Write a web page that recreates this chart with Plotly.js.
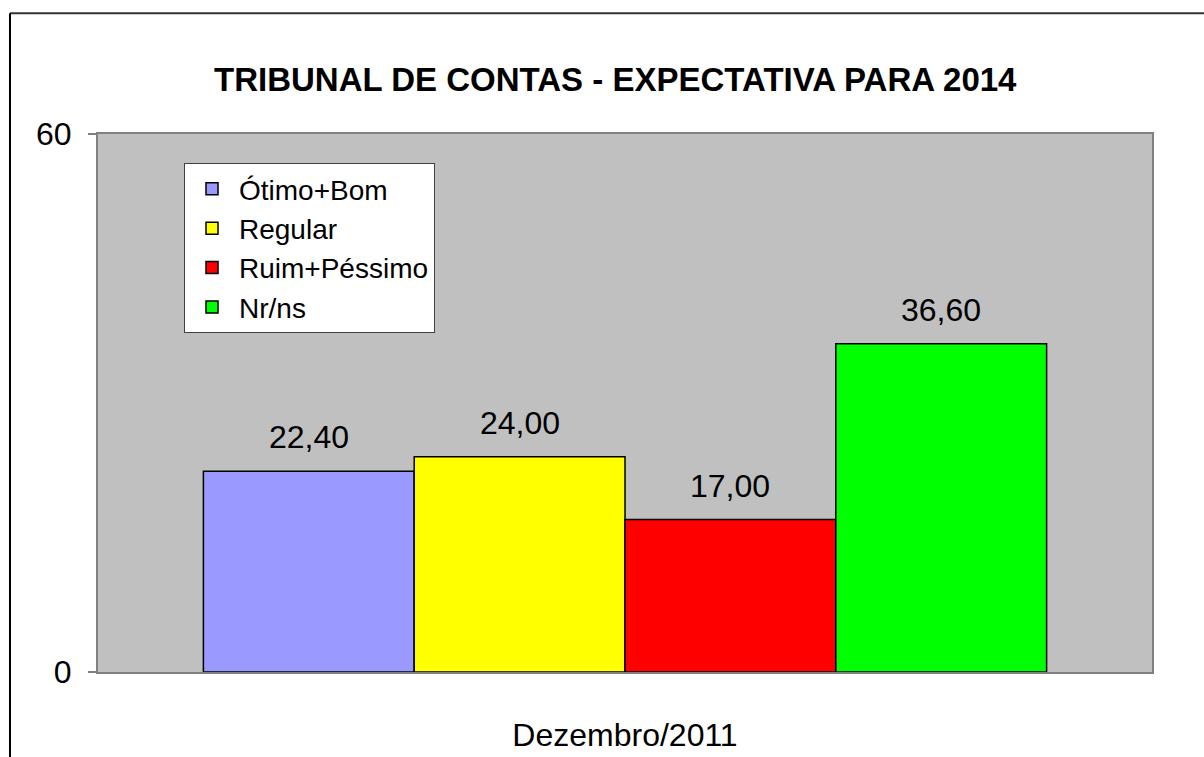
<!DOCTYPE html>
<html>
<head>
<meta charset="utf-8">
<script src="https://cdn.plot.ly/plotly-3.0.1.min.js"></script>
<style>html,body{margin:0;padding:0;background:#fff;}#chart{width:1204px;height:757px;}</style>
</head>
<body>
<div id="chart"></div>
<script>
const categories = ["Dezembro/2011"];
const seriesNames = ["Ótimo+Bom", "Regular", "Ruim+Péssimo", "Nr/ns"];
const seriesValues = [[22.40], [24.00], [17.00], [36.60]];
const seriesColors = ["#9999FF", "#FFFF00", "#FF0000", "#00FF00"];
const yTicks = [0, 60];

const bargap = 0.2;
const n = seriesNames.length;

const traces = seriesNames.map((name, i) => ({
  type: "bar",
  name: name,
  x: categories,
  y: seriesValues[i],
  marker: {color: seriesColors[i], line: {color: "#000", width: 1.5}},
  hoverinfo: "name+y"
}));

// value labels placed at each bar's centre within the group
const annotations = [];
seriesNames.forEach((name, i) => {
  categories.forEach((c, k) => {
    annotations.push({
      xref: "x", yref: "y",
      x: k + (i - (n - 1) / 2) * (1 - bargap) / n,
      y: seriesValues[i][k],
      text: seriesValues[i][k].toFixed(2).replace(".", ","),
      showarrow: false, yanchor: "bottom", yshift: 14,
      font: {family: "Liberation Sans, Arial, sans-serif", size: 32, color: "#000"}
    });
  });
});

const layout = {
  width: 1204, height: 757,
  margin: {l: 98, r: 52, t: 134, b: 85},
  paper_bgcolor: "#fff",
  plot_bgcolor: "#C0C0C0",
  separators: ",.",
  font: {family: "Liberation Sans, Arial, sans-serif", color: "#000"},
  title: {text: "<b>TRIBUNAL DE CONTAS - EXPECTATIVA PARA 2014</b>", x: 0.511, xref: "container", xanchor: "center", y: 0.895, yref: "container", yanchor: "middle", font: {size: 33, color: "#000"}},
  barmode: "group",
  bargap: bargap,
  bargroupgap: 0,
  xaxis: {showline: true, mirror: true, linecolor: "#808080", linewidth: 2, ticks: "", tickfont: {size: 32}, ticklabelstandoff: 34, showgrid: false},
  yaxis: {range: [0, 60], tickvals: yTicks, ticktext: yTicks.map(String), ticks: "outside", ticklen: 8, tickcolor: "#808080", tickwidth: 2, ticklabelstandoff: 10, showline: true, mirror: true, linecolor: "#808080", linewidth: 2, showgrid: false, zeroline: false, tickfont: {size: 32}},
  showlegend: true,
  legend: {x: 0.0816, y: 0.946, xanchor: "left", yanchor: "top", bgcolor: "#fff", bordercolor: "#404040", borderwidth: 1, font: {size: 28}, tracegroupgap: 0, itemwidth: 44},
  annotations: annotations,
  shapes: [
    {type: "line", xref: "paper", yref: "paper", x0: -0.0835, x1: 1.05, y0: 1.2245, y1: 1.2245, line: {color: "#333", width: 2}},
    {type: "line", xref: "paper", yref: "paper", x0: -0.0835, x1: -0.0835, y0: 1.2245, y1: -0.16, line: {color: "#000", width: 2}}
  ]
};

Plotly.newPlot("chart", traces, layout, {displayModeBar: false});
</script>
</body>
</html>
